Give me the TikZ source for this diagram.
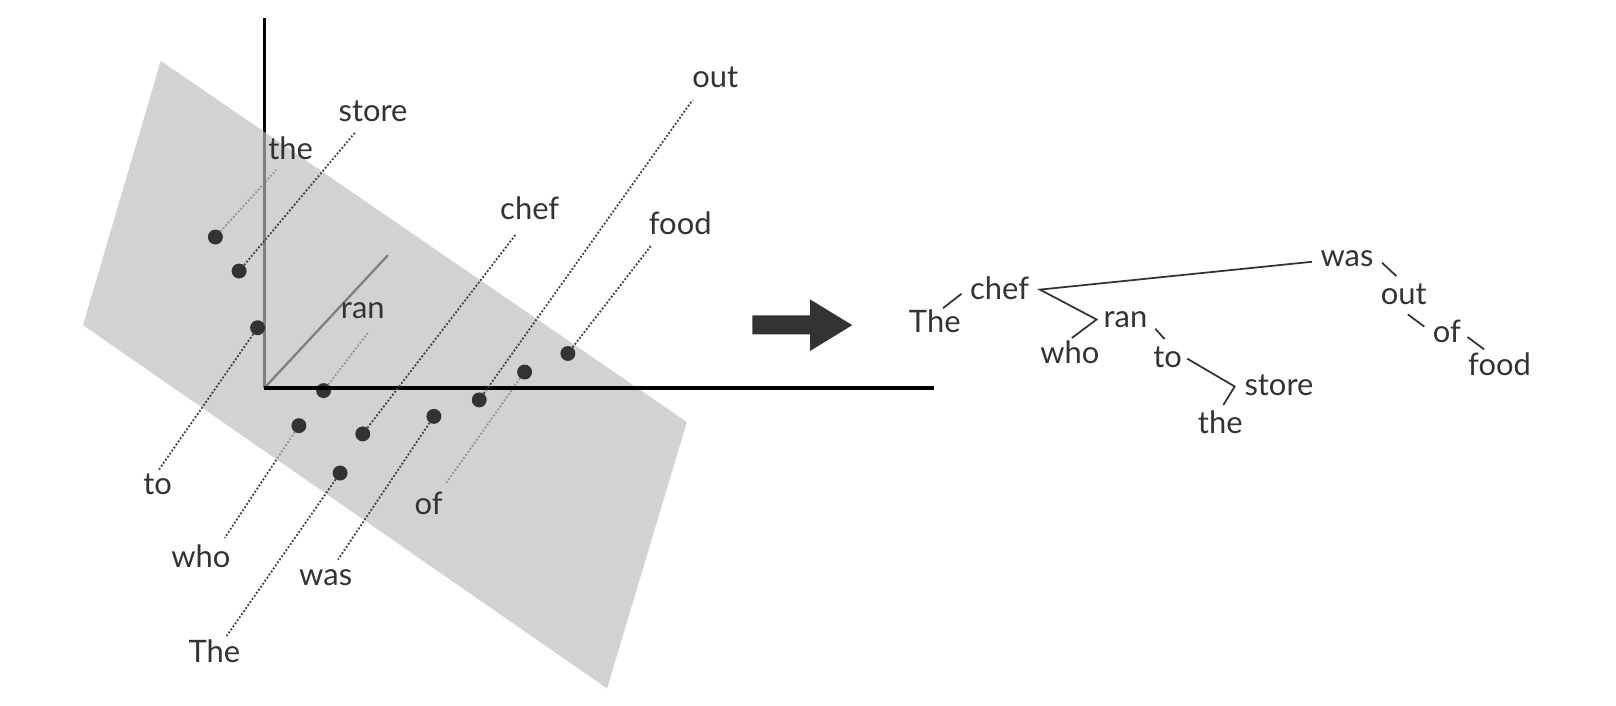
\documentclass[tikz,border=0pt]{standalone}
\usepackage{fontspec}
\setmainfont{Lato}
\pgfdeclarelayer{back}
\pgfdeclarelayer{plane}
\pgfsetlayers{back,plane,main}
\definecolor{txt}{HTML}{333333}
\definecolor{dotc}{HTML}{333333}
\definecolor{dl}{HTML}{444444}
\begin{document}
\begin{tikzpicture}[x=1pt,y=-1pt,
  lbl/.style={inner sep=0pt,anchor=base,text=txt,font=\fontsize{30}{36}\selectfont},
  dotn/.style={circle,fill=dotc,minimum size=14.5pt,inner sep=0pt},
  dline/.style={draw=dl,line width=1.8pt,dash pattern=on 1.8pt off 1.8pt},
  tline/.style={draw=txt,line width=1.7pt},
  axis/.style={draw=black,line width=2.6pt}]
\useasboundingbox (0,0) rectangle (1568,685);

% dots
\node[dotn] (dthe) at (209,230) {};
\node[dotn] (dstore) at (232,263) {};
\node[dotn] (dto) at (250,318) {};
\node[dotn] (dran) at (314,379) {};
\node[dotn] (dwho) at (290,413) {};
\node[dotn] (dchef) at (352,421) {};
\node[dotn] (dThe) at (330,459) {};
\node[dotn] (dwas) at (421,404) {};
\node[dotn] (dout) at (465,388) {};
\node[dotn] (dof) at (509,361) {};
\node[dotn] (dfood) at (551,343) {};

% label ends of dotted lines
\coordinate (ethe) at (268,165);
\coordinate (estore) at (345,128);
\coordinate (eout) at (672,97);
\coordinate (echef) at (500,228);
\coordinate (efood) at (632,238);
\coordinate (eran) at (357,323);
\coordinate (eto) at (154,456);
\coordinate (ewho) at (218,522);
\coordinate (ewas) at (328,543);
\coordinate (eThe) at (220,617);
\coordinate (eof) at (432,470);

% axes coordinates
\coordinate (O) at (256.5,376.5);
\coordinate (Ytop) at (256.5,17.5);
\coordinate (Xend) at (906,376.5);
\coordinate (Zend) at (376.5,247.5);

\begin{pgfonlayer}{back}
  \draw[dline] (dthe) -- (ethe);
  \draw[dline] (dran) -- (eran);
  \draw[dline] (dof) -- (eof);
  \draw[dline] (dwho) -- (ewho);
  \draw[axis] (O) -- (Ytop);
  \draw[draw=black,line width=2.2pt] (O) -- (Zend);
\end{pgfonlayer}
\begin{pgfonlayer}{plane}
  \fill[fill=black!26,fill opacity=0.673] (156,59) -- (80.5,315.5) -- (589,668) -- (666.5,409.5) -- cycle;
\end{pgfonlayer}

\draw[draw=black,line width=3.2pt] (O) -- (Xend);
\draw[dline] (dstore) -- (estore);
\draw[dline] (dto) -- (eto);
\draw[dline] (dchef) -- (echef);
\draw[dline] (dThe) -- (eThe);
\draw[dline] (dwas) -- (ewas);
\draw[dline] (dout) -- (eout);
\draw[dline] (dfood) -- (efood);

% left labels
\node[lbl] (lthe) at (282,155) {the};
\node[lbl] (lstore) at (362,118) {store};
\node[lbl] (lout) at (694,85) {out};
\node[lbl] (lchef) at (514,213) {chef};
\node[lbl] (lfood) at (660,228) {food};
\node[lbl] (lran) at (352,309) {ran};
\node[lbl] (lto) at (153,480) {to};
\node[lbl] (lwho) at (195,551) {who};
\node[lbl] (lwas) at (316,568) {was};
\node[lbl] (lThe) at (208,643) {The};
\node[lbl] (lof) at (416,499) {of};

% arrow
\fill[dotc] (730,306) -- (786,306) -- (786,290.5) -- (827,315.5) -- (786,340.5) -- (786,324.5) -- (730,324.5) -- cycle;

% tree
\node[lbl] (tThe) at (907,323) {The};
\node[lbl] (tchef) at (970,291) {chef};
\node[lbl] (twho) at (1038,353) {who};
\node[lbl] (tran) at (1092,318) {ran};
\node[lbl] (tto) at (1133,357) {to};
\node[lbl] (tstore) at (1241,384) {store};
\node[lbl] (tthe) at (1184,421) {the};
\node[lbl] (twas) at (1307,259) {was};
\node[lbl] (tout) at (1362,295) {out};
\node[lbl] (tof) at (1404,332) {of};
\node[lbl] (tfood) at (1455,364) {food};

\coordinate (a1) at (915,299);   \coordinate (a2) at (933,285);
\coordinate (b1) at (1009,281);  \coordinate (b2) at (1273,254);
\coordinate (v1) at (1064,310);  \coordinate (w1) at (1040,328);
\coordinate (c1) at (1121,319);  \coordinate (c2) at (1130,329);
\coordinate (d1) at (1152,348);  \coordinate (v2) at (1198,375);
\coordinate (e1) at (1187,393);
\coordinate (f1) at (1341,255);  \coordinate (f2) at (1355,268);
\coordinate (g1) at (1366,305);  \coordinate (g2) at (1382,317);
\coordinate (h1) at (1424,327);  \coordinate (h2) at (1440,339);

\draw[tline] (a1) -- (a2);
\draw[tline] (b2) -- (b1) -- (v1) -- (w1);
\draw[tline] (c1) -- (c2);
\draw[tline] (d1) -- (v2) -- (e1);
\draw[tline] (f1) -- (f2);
\draw[tline] (g1) -- (g2);
\draw[tline] (h1) -- (h2);
\end{tikzpicture}
\end{document}
